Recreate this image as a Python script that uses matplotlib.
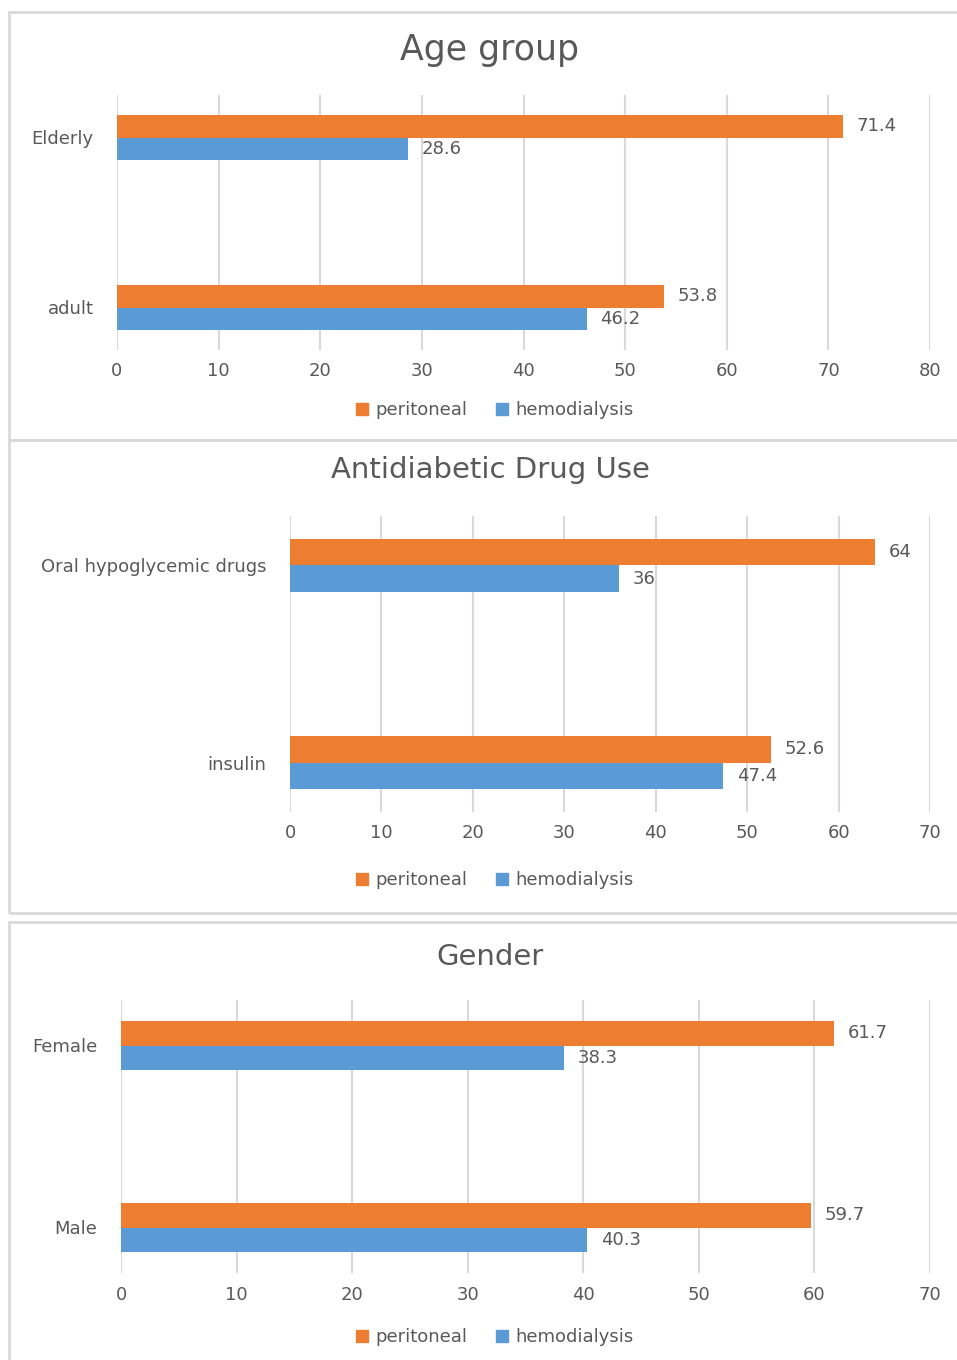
import numpy as np
import matplotlib
matplotlib.use('Agg')
import matplotlib.pyplot as plt
from matplotlib.patches import Rectangle, Patch

W, H = 957, 1360

# data
age_cats = ['adult', 'Elderly']
age_peritoneal = [53.8, 71.4]
age_hemo = [46.2, 28.6]

drug_cats = ['insulin', 'Oral hypoglycemic drugs']
drug_peritoneal = [52.6, 64]
drug_hemo = [47.4, 36]

gender_cats = ['Male', 'Female']
gender_peritoneal = [59.7, 61.7]
gender_hemo = [40.3, 38.3]

titles = ['Age group', 'Antidiabetic Drug Use', 'Gender']
xmaxes = [80, 70, 70]

ORANGE = '#ED7D31'
BLUE = '#5B9BD5'
GRID = '#D9D9D9'
TXT = '#595959'

plt.rcParams['font.family'] = ['DejaVu Sans']

fig = plt.figure(figsize=(W / 100, H / 100), dpi=100)


def px_box(l, t, r, b):
    return [l / W, 1 - b / H, (r - l) / W, (b - t) / H]


# panel borders (right side runs off the picture)
for (l, t, r, b) in [(9, 12, 980, 440), (9, 440, 980, 913), (9, 922, 980, 1380)]:
    fig.patches.append(Rectangle((l / W, 1 - b / H), (r - l) / W, (b - t) / H,
                                 transform=fig.transFigure, fill=False,
                                 edgecolor=GRID, linewidth=2))

panels = [
    (age_cats, age_peritoneal, age_hemo, (117, 95, 930, 350), 50, 25, 410),
    (drug_cats, drug_peritoneal, drug_hemo, (290, 516, 930, 812), 470, 21, 880),
    (gender_cats, gender_peritoneal, gender_hemo, (121, 1000, 930, 1273), 957, 21, 1337),
]

FS = 13
bh = 0.135
for i, (cats, per, hemo, box, ty, tsize, ly) in enumerate(panels):
    ax = fig.add_axes(px_box(*box))
    y = np.arange(len(cats))
    b1 = ax.barh(y + bh / 2, per, height=bh, color=ORANGE, label='peritoneal')
    b2 = ax.barh(y - bh / 2, hemo, height=bh, color=BLUE, label='hemodialysis')
    for bars, vals in [(b1, per), (b2, hemo)]:
        for bar, v in zip(bars, vals):
            ax.annotate(f'{v:g}', (v, bar.get_y() + bar.get_height() / 2),
                        xytext=(10, 0), textcoords='offset points',
                        ha='left', va='center', fontsize=FS, color=TXT)
    ax.set_xlim(0, xmaxes[i])
    ax.set_ylim(-0.25, 1.25)
    ax.set_xticks(np.arange(0, xmaxes[i] + 1, 10))
    ax.set_yticks(y)
    ax.set_yticklabels(cats)
    ax.xaxis.grid(True, color=GRID, linewidth=1.5)
    ax.set_axisbelow(True)
    for s in ax.spines.values():
        s.set_visible(False)
    ax.tick_params(axis='x', length=0, pad=9, labelsize=FS, labelcolor=TXT)
    ax.tick_params(axis='y', length=0, pad=17, labelsize=FS, labelcolor=TXT)
    fig.text(490 / W, 1 - ty / H, titles[i], ha='center', va='center',
             fontsize=tsize, color=TXT)
    handles = [Patch(color=ORANGE, label='peritoneal'),
               Patch(color=BLUE, label='hemodialysis')]
    fig.legend(handles=handles, loc='center', bbox_to_anchor=(495 / W, 1 - ly / H),
               ncol=2, frameon=False, fontsize=FS, labelcolor=TXT,
               handlelength=0.65, handleheight=0.65, handletextpad=0.4,
               columnspacing=1.6)

fig.savefig('out.png', dpi=100)
